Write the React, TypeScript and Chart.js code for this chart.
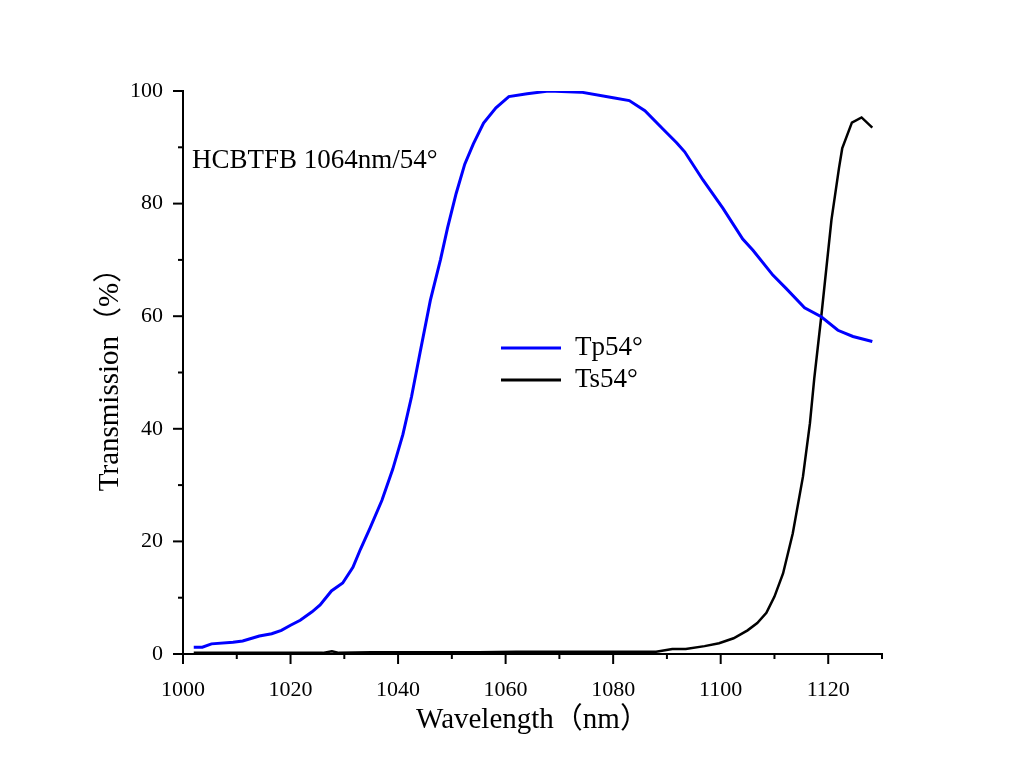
import React, { useEffect, useRef } from "react";
import { Chart, registerables } from "chart.js";

Chart.register(...registerables);

const tpWavelengths = [1002, 1003.6, 1005.3, 1009.3, 1011.1, 1014.2, 1016.5, 1018.3, 1020, 1021.8, 1024, 1025.5, 1027.6, 1029.7, 1031.6, 1033, 1034.8, 1037, 1039, 1040.9, 1042.5, 1044.1, 1046, 1047.9, 1049.2, 1050.8, 1052.4, 1054, 1055.9, 1058.2, 1060.6, 1064, 1068, 1074, 1080, 1083, 1085.9, 1089.3, 1091.8, 1093.3, 1096.7, 1100.4, 1104.1, 1106, 1109.7, 1112.2, 1115.6, 1118.7, 1121.8, 1124.6, 1128.2];
const tpValues = [1.2, 1.2, 1.8, 2.1, 2.3, 3.2, 3.6, 4.2, 5.1, 6.0, 7.5, 8.7, 11.2, 12.6, 15.4, 18.6, 22.4, 27.3, 32.8, 39, 45.7, 53.6, 62.8, 70.1, 75.7, 81.8, 87.0, 90.6, 94.3, 97.0, 99.0, 99.5, 100, 99.8, 98.8, 98.3, 96.5, 93.2, 90.8, 89.2, 84.2, 79.2, 73.7, 71.7, 67.3, 64.9, 61.5, 59.9, 57.5, 56.4, 55.5];

const tsWavelengths = [1002, 1010, 1020, 1026, 1027.7, 1029, 1035, 1045, 1055, 1062, 1070, 1080, 1088, 1091, 1093.5, 1097, 1099.7, 1102.4, 1105, 1106.8, 1108.5, 1110, 1111.6, 1113.4, 1115.3, 1116.6, 1117.4, 1118.7, 1120.6, 1122, 1122.6, 1124.4, 1126.2, 1128.2];
const tsValues = [0.2, 0.2, 0.2, 0.2, 0.5, 0.2, 0.3, 0.3, 0.3, 0.4, 0.4, 0.4, 0.4, 0.9, 0.9, 1.4, 1.9, 2.8, 4.2, 5.5, 7.3, 10.2, 14.3, 21.4, 31.5, 41, 48.9, 59.9, 77.1, 86.3, 89.8, 94.4, 95.3, 93.5];

const seriesLabels = ["Tp54°", "Ts54°"];
const seriesColors = ["#0000FF", "#000000"];
const annotationText = "HCBTFB 1064nm/54°";
const xTitle = "Wavelength（nm）";
const yTitle = "Transmission（%）";

const FONT = "'Liberation Serif', 'Noto Sans CJK SC', serif";

const tickMarksPlugin = {
  id: "tickMarks",
  afterDraw(chart: any) {
    const ctx = chart.ctx;
    ctx.save();
    ctx.strokeStyle = "#000";
    ctx.lineWidth = 2;
    const xs = chart.scales.x;
    const ys = chart.scales.y;
    const area = chart.chartArea;
    xs.ticks.forEach((t: any) => {
      const px = xs.getPixelForValue(t.value);
      const len = t.value % 20 === 0 ? 10 : 5;
      ctx.beginPath();
      ctx.moveTo(px, area.bottom);
      ctx.lineTo(px, area.bottom + len);
      ctx.stroke();
    });
    ys.ticks.forEach((t: any) => {
      const py = ys.getPixelForValue(t.value);
      const len = t.value % 20 === 0 ? 10 : 5;
      ctx.beginPath();
      ctx.moveTo(area.left, py);
      ctx.lineTo(area.left - len, py);
      ctx.stroke();
    });
    ctx.restore();
  },
};

const decorPlugin = {
  id: "decor",
  afterDraw(chart: any) {
    const ctx = chart.ctx;
    const area = chart.chartArea;
    ctx.save();
    ctx.font = `27px ${FONT}`;
    ctx.fillStyle = "#000";
    ctx.textBaseline = "middle";
    ctx.textAlign = "left";
    ctx.fillText(annotationText, area.left + 9, area.top + 70);
    // legend
    const lx = area.left + 318;
    const ly = area.top + 257;
    chart.data.datasets.forEach((ds: any, i: number) => {
      const y = ly + i * 32;
      ctx.strokeStyle = ds.borderColor;
      ctx.lineWidth = 3;
      ctx.beginPath();
      ctx.moveTo(lx, y);
      ctx.lineTo(lx + 60, y);
      ctx.stroke();
      ctx.fillStyle = "#000";
      ctx.fillText(ds.label, lx + 74, y);
    });
    ctx.restore();
  },
};

export default function App() {
  const ref = useRef<HTMLCanvasElement>(null);
  useEffect(() => {
    if (!ref.current) return;
    const chart = new Chart(ref.current, {
      type: "line",
      data: {
        datasets: [
          {
            label: seriesLabels[0],
            data: tpWavelengths.map((x, i) => ({ x, y: tpValues[i] })),
            borderColor: seriesColors[0],
            backgroundColor: seriesColors[0],
            borderWidth: 3,
            pointRadius: 0,
            tension: 0,
          },
          {
            label: seriesLabels[1],
            data: tsWavelengths.map((x, i) => ({ x, y: tsValues[i] })),
            borderColor: seriesColors[1],
            backgroundColor: seriesColors[1],
            borderWidth: 2.5,
            pointRadius: 0,
            tension: 0,
          },
        ],
      },
      options: {
        responsive: false,
        animation: false,
        layout: { padding: { left: 93, right: 142, top: 91, bottom: 46 } },
        plugins: { legend: { display: false }, tooltip: { enabled: false } },
        scales: {
          x: {
            type: "linear",
            min: 1000,
            max: 1130,
            grid: { display: false, drawTicks: false },
            border: { display: true, color: "#000", width: 2 },
            ticks: {
              stepSize: 10,
              autoSkip: false,
              maxRotation: 0,
              padding: 23,
              color: "#000",
              font: { family: FONT, size: 22 },
              callback: (v: any) => (Number(v) % 20 === 0 ? String(v) : ""),
            },
            title: {
              display: true,
              text: xTitle,
              color: "#000",
              font: { family: FONT, size: 29 },
              padding: { top: 0, bottom: 0 },
            },
            afterFit: (s: any) => {
              s.height = 84;
            },
          },
          y: {
            min: 0,
            max: 100,
            grid: { display: false, drawTicks: false },
            border: { display: true, color: "#000", width: 2 },
            ticks: {
              stepSize: 10,
              autoSkip: false,
              padding: 20,
              color: "#000",
              font: { family: FONT, size: 22 },
              callback: (v: any) => (Number(v) % 20 === 0 ? String(v) : ""),
            },
            title: {
              display: true,
              text: yTitle,
              color: "#000",
              font: { family: FONT, size: 29 },
              padding: { top: 0, bottom: 0 },
            },
            afterFit: (s: any) => {
              s.width = 90;
            },
          },
        },
      },
      plugins: [tickMarksPlugin, decorPlugin],
    });
    return () => chart.destroy();
  }, []);
  return (
    <canvas
      ref={ref}
      width={1024}
      height={784}
      style={{ position: "absolute", left: 0, top: 0, width: 1024, height: 784, background: "#fff" }}
    />
  );
}
